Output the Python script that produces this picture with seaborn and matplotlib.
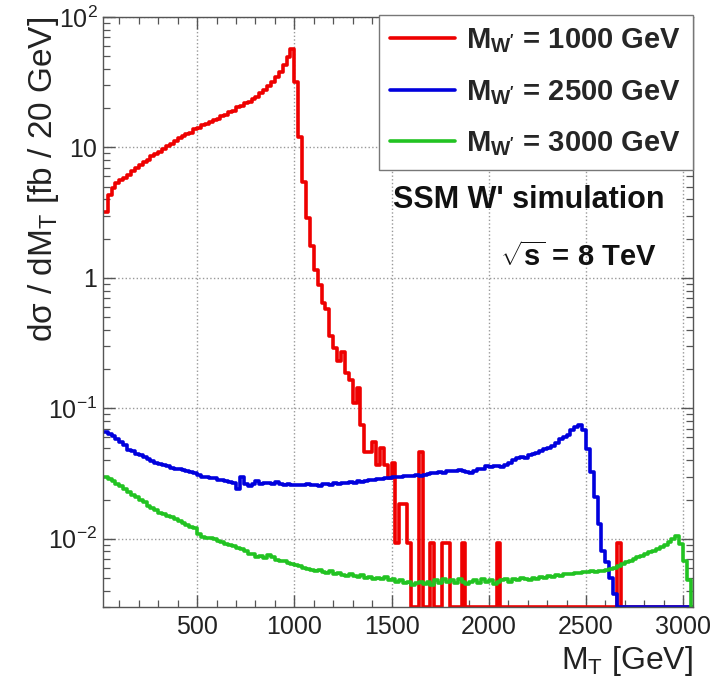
import numpy as np
import pandas as pd
import matplotlib
matplotlib.use('Agg')
import matplotlib.pyplot as plt
import seaborn as sns
from matplotlib.ticker import MultipleLocator, LogLocator, FuncFormatter, NullFormatter
from matplotlib.lines import Line2D

sns.set_style('white')
plt.rcParams['font.family'] = ['Liberation Sans', 'DejaVu Sans']
plt.rcParams['mathtext.fontset'] = 'custom'
plt.rcParams['mathtext.rm'] = 'Liberation Sans'
plt.rcParams['mathtext.it'] = 'Liberation Sans:italic'
plt.rcParams['mathtext.bf'] = 'Liberation Sans:bold'

# histogram binning: 20 GeV bins starting at 20 GeV
bin_width = 20
first_edge = 20

# d sigma / d MT [fb / 20 GeV], one value per bin
mw1000 = [3.2, 4.3, 4.9, 5.3, 5.6, 5.8, 6.1, 6.6, 7.0, 7.3,
          7.7, 8.0, 8.6, 8.9, 9.3, 9.7, 10.3, 10.6, 11.2, 11.8,
          12.2, 12.7, 13.0, 13.8, 14.2, 14.8, 15.2, 15.7, 16.3, 16.6,
          17.3, 17.8, 18.7, 19.2, 20.3, 20.9, 21.9, 22.4, 23.6, 24.5,
          26.1, 27.8, 29.6, 31.8, 35.0, 38.0, 43.0, 49.0, 57.0, 32.0,
          12.0, 5.4, 2.9, 1.75, 1.15, 0.88, 0.64, 0.58, 0.36, 0.29,
          0.23, 0.27, 0.186, 0.165, 0.11, 0.142, 0.074, 0.046, 0.046, 0.055,
          0.037, 0.05, 0.037, 0.029, 0.038, 0.0093, 0.0186, 0.0186, 0.0093, 0,
          0, 0.046, 0, 0, 0.0093, 0, 0, 0.0093, 0.0093, 0,
          0, 0, 0.0093, 0, 0, 0, 0, 0, 0, 0,
          0, 0.0093, 0, 0, 0, 0, 0, 0, 0, 0,
          0, 0, 0, 0, 0, 0, 0, 0, 0, 0,
          0, 0, 0, 0, 0, 0, 0, 0, 0, 0,
          0, 0, 0.0093, 0, 0, 0, 0, 0, 0, 0,
          0, 0, 0, 0, 0, 0, 0, 0, 0, 0,
          0, 0]

mw2500 = [0.066, 0.064, 0.061, 0.058, 0.055, 0.052, 0.048, 0.047, 0.045, 0.0435,
          0.042, 0.041, 0.0395, 0.038, 0.0376, 0.0365, 0.036, 0.035, 0.0345, 0.034,
          0.0335, 0.033, 0.0324, 0.0318, 0.031, 0.030, 0.0298, 0.0294, 0.029, 0.0284,
          0.028, 0.0275, 0.0271, 0.027, 0.024, 0.0296, 0.0265, 0.0255, 0.0262, 0.0275,
          0.0262, 0.027, 0.0268, 0.0265, 0.0272, 0.0262, 0.026, 0.0265, 0.026, 0.026,
          0.0258, 0.026, 0.0262, 0.0258, 0.026, 0.0255, 0.0262, 0.0265, 0.026, 0.0268,
          0.0265, 0.027, 0.0268, 0.0272, 0.027, 0.0275, 0.0272, 0.0278, 0.028, 0.0282,
          0.0285, 0.0288, 0.029, 0.0292, 0.0295, 0.030, 0.0298, 0.0302, 0.0305, 0.0302,
          0.0308, 0.0305, 0.031, 0.0312, 0.0318, 0.032, 0.0325, 0.0322, 0.033, 0.0332,
          0.0328, 0.0335, 0.033, 0.0325, 0.0318, 0.0328, 0.034, 0.0345, 0.036, 0.0358,
          0.0362, 0.036, 0.0355, 0.0365, 0.038, 0.040, 0.0415, 0.042, 0.0418, 0.044,
          0.045, 0.0458, 0.047, 0.049, 0.050, 0.051, 0.054, 0.058, 0.060, 0.062,
          0.068, 0.072, 0.075, 0.068, 0.049, 0.0324, 0.021, 0.013, 0.0081, 0.0066,
          0.005, 0.0038, 0, 0, 0, 0, 0, 0, 0, 0,
          0, 0, 0, 0, 0, 0, 0, 0, 0, 0,
          0, 0]

mw3000 = [0.030, 0.0288, 0.0275, 0.0262, 0.0252, 0.024, 0.0228, 0.0218, 0.0208, 0.020,
          0.019, 0.0178, 0.0172, 0.0165, 0.0159, 0.0155, 0.015, 0.0146, 0.0141, 0.0136,
          0.0132, 0.0127, 0.0124, 0.012, 0.0108, 0.0104, 0.0102, 0.0101, 0.0099, 0.0097,
          0.0095, 0.0092, 0.009, 0.0088, 0.0085, 0.0083, 0.008, 0.0077, 0.0076, 0.0073,
          0.0074, 0.0071, 0.0075, 0.0072, 0.0069, 0.0068, 0.0067, 0.0065, 0.0064, 0.0063,
          0.0062, 0.006, 0.0059, 0.0058, 0.0057, 0.0058, 0.0056, 0.0055, 0.0057, 0.0054,
          0.0055, 0.0053, 0.0052, 0.0054, 0.0052, 0.0051, 0.0053, 0.005, 0.0051, 0.0049,
          0.005, 0.0049, 0.0051, 0.0048, 0.0049, 0.0047, 0.0048, 0.0046, 0.0047, 0.0044,
          0.0046, 0.0047, 0.0045, 0.0047, 0.0044, 0.0048, 0.0046, 0.0049, 0.0047, 0.0048,
          0.0046, 0.0049, 0.0047, 0.0045, 0.0047, 0.0048, 0.0046, 0.0049, 0.0047, 0.0048,
          0.0045, 0.0047, 0.0048, 0.0049, 0.0047, 0.0049, 0.0048, 0.005, 0.0049, 0.0048,
          0.005, 0.0049, 0.0051, 0.005, 0.0052, 0.0051, 0.0053, 0.0052, 0.0054, 0.0054,
          0.0054, 0.0055, 0.0055, 0.0056, 0.0056, 0.0057, 0.0056, 0.0057, 0.0057, 0.0058,
          0.0059, 0.006, 0.0062, 0.0064, 0.0066, 0.0068, 0.007, 0.0072, 0.0074, 0.0076,
          0.0079, 0.0081, 0.0084, 0.0087, 0.009, 0.0095, 0.0099, 0.0105, 0.0092, 0.0068,
          0.0048, 0]

masses = ['1000', '2500', '3000']
colors = ['#ee0000', '#0000dd', '#22c322']
y_min, y_max = 0.003, 100
x_min, x_max = 16, 3050

assert len(mw1000) == len(mw2500) == len(mw3000)

edges = first_edge + bin_width * np.arange(len(mw1000) + 1)
frames = []
for m, vals in zip(masses, [mw1000, mw2500, mw3000]):
    # empty bins are drawn on the lower frame edge, as ROOT does
    v = np.clip(np.array(vals + [vals[-1]], dtype=float), y_min, None)
    frames.append(pd.DataFrame({'MT': edges, 'xsec': v, 'sample': m}))
df = pd.concat(frames, ignore_index=True)

fig = plt.figure(figsize=(7.18, 6.82), dpi=100)
ax = fig.add_axes([0.1435, 0.110, 0.8215, 0.865])

sns.lineplot(data=df, x='MT', y='xsec', hue='sample', palette=colors,
             drawstyle='steps-post', linewidth=2.6, estimator=None, sort=False,
             legend=False, ax=ax)

ax.set_yscale('log')
ax.set_xlim(x_min, x_max)
ax.set_ylim(y_min, y_max)

# ROOT-like frame and ticks
frame_col = '#555555'
for s in ax.spines.values():
    s.set_color(frame_col)
    s.set_linewidth(1.0)
ax.xaxis.set_major_locator(MultipleLocator(500))
ax.xaxis.set_minor_locator(MultipleLocator(100))
ax.yaxis.set_major_locator(LogLocator(base=10, numticks=10))
ax.yaxis.set_minor_locator(LogLocator(base=10, subs=np.arange(2, 10), numticks=20))
ax.yaxis.set_minor_formatter(NullFormatter())

def ylab(v, pos):
    e = int(round(np.log10(v)))
    if e == 0:
        return '1'
    if e == 1:
        return '10'
    return r'$\mathregular{10^{%d}}$' % e

ax.yaxis.set_major_formatter(FuncFormatter(ylab))
ax.tick_params(which='both', direction='in', bottom=True, left=True, top=True, right=True,
               color=frame_col, labelcolor='#222222')
ax.tick_params(which='major', length=8.6, width=1.0, labelsize=18)
ax.tick_params(which='minor', length=5, width=0.9)
ax.tick_params(axis='x', which='major', pad=6)
ax.tick_params(axis='y', which='major', pad=4)

ax.grid(True, which='major', linestyle=':', color='#999999', linewidth=1.0)
ax.set_axisbelow(True)

ax.set_ylabel('dσ / dM$_\\mathregular{T}$ [fb / 20 GeV]', fontsize=24, color='#222222', loc='top')
ax.yaxis.set_label_coords(-0.072, 1.0)
ax.set_xlabel('M$_\\mathregular{T}$ [GeV]', fontsize=23, color='#222222', loc='right')
ax.xaxis.set_label_coords(1.0, -0.062)

handles = [Line2D([], [], color=c, lw=2.6) for c in colors]
labels = [r"$\mathbf{M}_{\mathbf{W'}}$ = %s GeV" % m for m in masses]
leg = ax.legend(handles, labels, loc='upper right', bbox_to_anchor=(1.0, 1.004),
                borderaxespad=0, frameon=True, fancybox=False, framealpha=1,
                edgecolor='#777777', prop={'size': 21, 'weight': 'bold'},
                handlelength=2.2, handletextpad=0.4, labelspacing=0.78,
                borderpad=0.4)
leg.get_frame().set_linewidth(1.0)

ax.text(0.9525, 0.69, "SSM W' simulation", transform=ax.transAxes, ha='right',
        va='center', fontsize=22, fontweight='bold', color='#111111')
ax.text(0.939, 0.593, r"$\sqrt{\mathbf{s}}$ = 8 TeV", transform=ax.transAxes, ha='right',
        va='center', fontsize=21, fontweight='bold', color='#111111')

fig.savefig('out.png', dpi=100)
